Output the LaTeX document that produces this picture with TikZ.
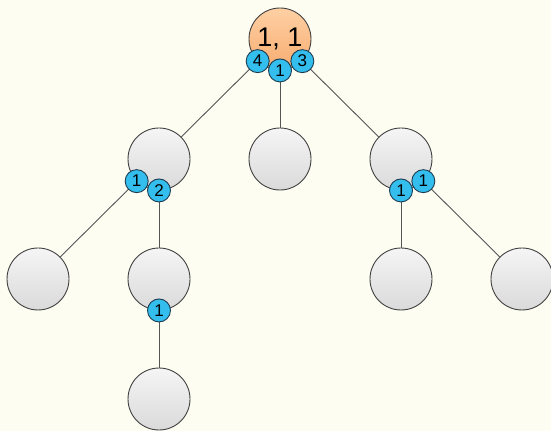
\documentclass[tikz,border=0pt]{standalone}
\usepackage{fontspec}
\setmainfont{Liberation Sans}
\usetikzlibrary{positioning}
\definecolor{paper}{RGB}{253,253,242}
\definecolor{ballhi}{RGB}{245,245,245}
\definecolor{balllo}{RGB}{218,218,218}
\definecolor{peachhi}{RGB}{255,208,164}
\definecolor{peachlo}{RGB}{246,172,112}
\definecolor{portblue}{RGB}{51,190,238}
\definecolor{portline}{RGB}{30,60,80}
\definecolor{wire}{RGB}{85,85,85}
\begin{document}
\begin{tikzpicture}[x=1pt, y=1pt, on grid, node distance={120pt and 121pt},
  main/.style = {draw=black!75, line width=0.9pt, circle, minimum size=62pt, inner sep=0pt, top color=ballhi, bottom color=balllo},
  root/.style = {main, top color=peachhi, bottom color=peachlo, font=\fontsize{27}{27}\selectfont},
  port/.style = {draw=portline, line width=0.9pt, circle, fill=portblue, minimum size=23pt, inner sep=0pt, font=\fontsize{17}{17}\selectfont},
  wire/.style = {draw=wire, line width=0.9pt}]
  \fill[paper] (0,0) rectangle (551,431);
  \useasboundingbox (0,0) rectangle (551,431);
  % the tree
  \node[root] (1) at (280,392) {1, 1};
  \node[main] (2) [below left=of 1] {};
  \node[main] (3) [below=of 1] {};
  \node[main] (4) [below right=of 1] {};
  \node[main] (5) [below left=of 2] {};
  \node[main] (6) [below=of 2] {};
  \node[main] (7) [below=of 6] {};
  \node[main] (8) [below=of 4] {};
  \node[main] (9) [below right=of 4] {};
  % edges, numbered where they leave the parent
  \draw[wire] (1) -- (2) node[port, pos=0] {4};
  \draw[wire] (1) -- (4) node[port, pos=0] {3};
  \draw[wire] (1) -- (3) node[port, pos=0] {1};
  \draw[wire] (2) -- (5) node[port, pos=0] {1};
  \draw[wire] (2) -- (6) node[port, pos=0] {2};
  \draw[wire] (6) -- (7) node[port, pos=0] {1};
  \draw[wire] (4) -- (8) node[port, pos=0] {1};
  \draw[wire] (4) -- (9) node[port, pos=0] {1};
\end{tikzpicture}
\end{document}
